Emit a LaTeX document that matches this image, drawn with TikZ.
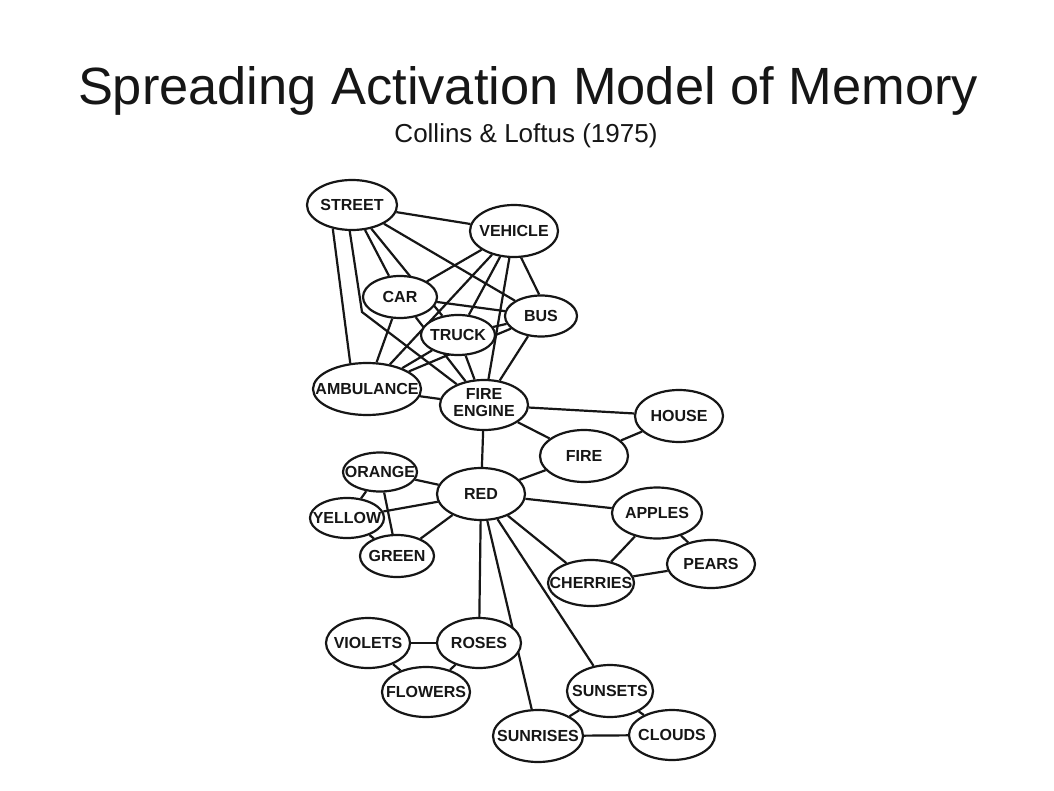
\documentclass[tikz,border=0pt]{standalone}
\usepackage{fontspec}
\setmainfont{Liberation Sans}
\usetikzlibrary{shapes.geometric}
\pgfdeclarelayer{paper}
\pgfdeclarelayer{edgelayer}
\pgfsetlayers{paper,edgelayer,main}
\definecolor{ink}{HTML}{161616}
\tikzset{
  concept/.style={ellipse, draw=ink, line width=2.2pt, fill=white, inner sep=0pt,
    text=ink, font=\fontsize{16}{17}\selectfont\bfseries},
  link/.style={draw=ink, line width=2.2pt},
}
% zero-width label so the ellipse keeps its given size
\newcommand\lbl[1]{\makebox[0pt]{#1}}
\begin{document}
\begin{tikzpicture}[x=1pt, y=-1pt]
\begin{pgfonlayer}{paper}
  \fill[white] (0,0) rectangle (1054,791);
\end{pgfonlayer}
\useasboundingbox (0,0) rectangle (1054,791);

% titles
\node[anchor=base, font=\fontsize{52.4}{60}\selectfont, text=ink] (title) at (528,105)
  {Spreading Activation Model of Memory};
\node[anchor=base, font=\fontsize{26}{30}\selectfont, text=ink] (subtitle) at (526,143)
  {Collins \& Loftus (1975)};

% vehicle cluster
\node[concept, minimum width=90pt, minimum height=50pt] (street) at (352,205) {\lbl{STREET}};
\node[concept, minimum width=88pt, minimum height=52pt] (vehicle) at (514,231) {\lbl{VEHICLE}};
\node[concept, minimum width=74pt, minimum height=42pt] (car) at (400,297) {\lbl{CAR}};
\node[concept, minimum width=72pt, minimum height=41pt] (bus) at (541,316) {\lbl{BUS}};
\node[concept, minimum width=74pt, minimum height=40pt] (truck) at (458,335) {\lbl{TRUCK}};
\node[concept, minimum width=108pt, minimum height=52pt] (amb) at (367,389) {\lbl{AMBULANCE}};
\node[concept, minimum width=88pt, minimum height=50pt] (fe) at (484,405)
  {\lbl{\begin{tabular}{@{}c@{}}FIRE\\ENGINE\end{tabular}}};

% fire / colour cluster
\node[concept, minimum width=88pt, minimum height=52pt] (house) at (679,416) {\lbl{HOUSE}};
\node[concept, minimum width=88pt, minimum height=52pt] (fire) at (584,456) {\lbl{FIRE}};
\node[concept, minimum width=88pt, minimum height=52pt] (red) at (481,494) {\lbl{RED}};
\node[concept, minimum width=74pt, minimum height=39pt] (orange) at (380,472) {\lbl{ORANGE}};
\node[concept, minimum width=74pt, minimum height=40pt] (yellow) at (347,518) {\lbl{YELLOW}};
\node[concept, minimum width=74pt, minimum height=42pt] (green) at (397,556) {\lbl{GREEN}};

% fruit cluster
\node[concept, minimum width=90pt, minimum height=51pt] (apples) at (657,513) {\lbl{APPLES}};
\node[concept, minimum width=88pt, minimum height=48pt] (pears) at (711,564) {\lbl{PEARS}};
\node[concept, minimum width=86pt, minimum height=46pt] (cherries) at (591,583) {\lbl{CHERRIES}};

% flower and sky clusters
\node[concept, minimum width=84pt, minimum height=50pt] (violets) at (368,643) {\lbl{VIOLETS}};
\node[concept, minimum width=84pt, minimum height=50pt] (roses) at (479,643) {\lbl{ROSES}};
\node[concept, minimum width=88pt, minimum height=50pt] (flowers) at (426,692) {\lbl{FLOWERS}};
\node[concept, minimum width=86pt, minimum height=52pt] (sunsets) at (610,691) {\lbl{SUNSETS}};
\node[concept, minimum width=90pt, minimum height=52pt] (sunrises) at (538,736) {\lbl{SUNRISES}};
\node[concept, minimum width=86pt, minimum height=50pt] (clouds) at (672,735) {\lbl{CLOUDS}};

\coordinate (streetbend) at (362,312);

\begin{pgfonlayer}{edgelayer}
  % street
  \draw[link] (street) -- (vehicle);
  \draw[link] (street.231) -- (amb.123);
  \draw[link] (street.265) -- (streetbend) -- (fe);
  \draw[link] (street) -- (car);
  \draw[link] (street) -- (truck);
  \draw[link] (street) -- (bus);
  % vehicle
  \draw[link] (vehicle) -- (car);
  \draw[link] (vehicle) -- (amb);
  \draw[link] (vehicle) -- (truck);
  \draw[link] (vehicle) -- (fe);
  \draw[link] (vehicle.285) -- (bus.95);
  % car, truck, bus, ambulance
  \draw[link] (car) -- (bus);
  \draw[link] (car) -- (amb);
  \draw[link] (car) -- (fe);
  \draw[link] (truck) -- (bus);
  \draw[link] (truck) -- (amb);
  \draw[link] (truck) -- (fe);
  \draw[link] (amb) -- (bus);
  \draw[link] (bus) -- (fe);
  \draw[link] (amb) -- (fe);
  % fire engine
  \draw[link] (fe) -- (red);
  \draw[link] (fe) -- (house);
  \draw[link] (fe) -- (fire);
  \draw[link] (house) -- (fire);
  \draw[link] (fire) -- (red);
  % colours
  \draw[link] (red) -- (orange);
  \draw[link] (red) -- (yellow);
  \draw[link] (red) -- (green);
  \draw[link] (orange) -- (yellow);
  \draw[link] (orange) -- (green);
  \draw[link] (yellow) -- (green);
  % fruit
  \draw[link] (red) -- (apples);
  \draw[link] (red) -- (cherries);
  \draw[link] (apples) -- (cherries);
  \draw[link] (apples) -- (pears);
  \draw[link] (cherries) -- (pears);
  % flowers
  \draw[link] (red) -- (roses);
  \draw[link] (roses) -- (violets);
  \draw[link] (roses) -- (flowers);
  \draw[link] (violets) -- (flowers);
  % sky
  \draw[link] (red) -- (sunrises);
  \draw[link] (red) -- (sunsets);
  \draw[link] (sunsets) -- (sunrises);
  \draw[link] (sunsets) -- (clouds);
  \draw[link] (sunrises) -- (clouds);
\end{pgfonlayer}
\end{tikzpicture}
\end{document}
